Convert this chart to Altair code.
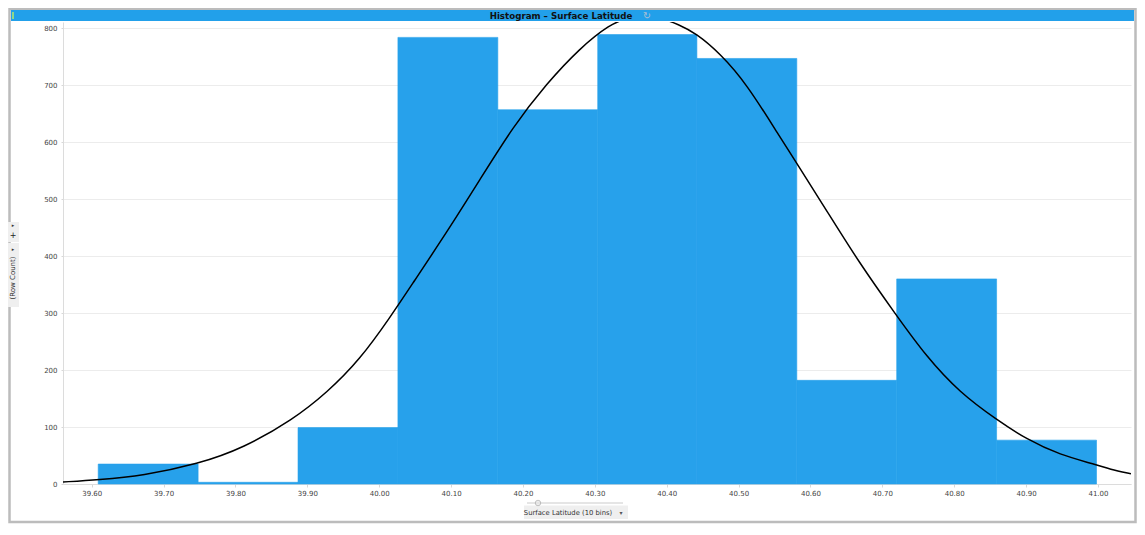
import altair as alt
import pandas as pd

# ---- data ----
bin_start = [39.609, 39.748, 39.887, 40.026, 40.165, 40.304, 40.442, 40.581, 40.720, 40.859]
bin_end = [39.748, 39.887, 40.026, 40.165, 40.304, 40.442, 40.581, 40.720, 40.859, 40.998]
row_count = [35, 3, 99, 784, 657, 789, 747, 182, 360, 77]

curve_x = [39.560, 39.609, 39.671, 39.748, 39.811, 39.880, 39.927, 39.973, 40.016, 40.047,
           40.093, 40.140, 40.186, 40.233, 40.279, 40.321, 40.345, 40.368, 40.392, 40.416,
           40.441, 40.474, 40.511, 40.557, 40.581, 40.622, 40.668, 40.719, 40.761, 40.808,
           40.859, 40.900, 40.947, 40.998, 41.016, 41.046]
curve_y = [3.5, 7.5, 14.6, 35, 63, 113, 160, 218, 294, 353,
           440, 534, 627, 703, 765, 807, 818, 822, 818, 807,
           791, 756, 703, 610, 563, 481, 388, 297, 224, 160,
           113, 79, 51, 34, 26, 18]

x_ticks = [39.6, 39.7, 39.8, 39.9, 40.0, 40.1, 40.2, 40.3, 40.4, 40.5, 40.6, 40.7, 40.8, 40.9, 41.0]
y_ticks = [0, 100, 200, 300, 400, 500, 600, 700, 800]

title_text = "Histogram \u2013 Surface Latitude"
x_title_text = "Surface Latitude (10 bins)"
y_title_text = "(Row Count)"

W, H = 1068, 462
FONT = "DejaVu Sans"
BLUE = "#27a1eb"

bars_df = pd.DataFrame({"start": bin_start, "end": bin_end, "count": row_count})
curve_df = pd.DataFrame({"lat": curve_x, "val": curve_y})
one = pd.DataFrame({"k": [0]})

xscale = alt.Scale(domain=[39.560, 41.046], nice=False, zero=False)
yscale = alt.Scale(domain=[0, 811], nice=False)

xaxis = alt.Axis(values=x_ticks, format=".2f", grid=False, title=None,
                 labelFont=FONT, labelFontSize=7, labelColor="#444",
                 tickSize=3, tickColor="#d8d8d8", domainColor="#dcdcdc",
                 labelPadding=2, labelFlush=False)
yaxis = alt.Axis(values=y_ticks, grid=True, gridColor="#ececec", title=None,
                 labelFont=FONT, labelFontSize=7, labelColor="#444",
                 tickSize=2, tickColor="#d8d8d8", domainColor="#dcdcdc",
                 labelPadding=4)

bars = alt.Chart(bars_df).mark_rect(color=BLUE, stroke=BLUE, strokeWidth=0.6).encode(
    x=alt.X("start:Q", scale=xscale, axis=xaxis),
    x2="end:Q",
    y=alt.Y("count:Q", scale=yscale, axis=yaxis),
    y2=alt.datum(0),
)

curve = alt.Chart(curve_df).mark_line(color="black", strokeWidth=1.5,
                                      interpolate="basis", clip=True).encode(
    x=alt.X("lat:Q", scale=xscale),
    y=alt.Y("val:Q", scale=yscale),
)

# ---- decorative frame / header / controls ----
frame = alt.Chart(one).mark_rect(fill=None, stroke="#bcbcbc", strokeWidth=2.5).encode(
    x=alt.value(-53.5), x2=alt.value(W + 4.5), y=alt.value(-12.8), y2=alt.value(H + 38))
header = alt.Chart(one).mark_rect(color="#22a0ea").encode(
    x=alt.value(-52), x2=alt.value(W + 3), y=alt.value(-12), y2=alt.value(-1))
green = alt.Chart(one).mark_rect(color="#8fd88a").encode(
    x=alt.value(-51), x2=alt.value(-49), y=alt.value(-10), y2=alt.value(-3))
title = alt.Chart(one).mark_text(text=title_text, font=FONT, fontSize=8.7, fontWeight="bold",
                                 color="#111", align="center", baseline="middle").encode(
    x=alt.value(498), y=alt.value(-6.5))
refresh = alt.Chart(one).mark_text(text="\u21bb", font=FONT, fontSize=10, color="#a9bfd4",
                                   align="center", baseline="middle").encode(
    x=alt.value(584), y=alt.value(-6.5))

panel1 = alt.Chart(one).mark_rect(color="#efefef").encode(
    x=alt.value(-55), x2=alt.value(-44), y=alt.value(200), y2=alt.value(220))
panel2 = alt.Chart(one).mark_rect(color="#efefef").encode(
    x=alt.value(-55), x2=alt.value(-44), y=alt.value(221), y2=alt.value(285))
arrow1 = alt.Chart(one).mark_text(text="\u25b8", font=FONT, fontSize=5, color="#333",
                                  align="center", baseline="middle").encode(
    x=alt.value(-50), y=alt.value(202.5))
plus = alt.Chart(one).mark_text(text="+", font=FONT, fontSize=8, color="#222",
                                align="center", baseline="middle").encode(
    x=alt.value(-50), y=alt.value(214))
arrow2 = alt.Chart(one).mark_text(text="\u25b8", font=FONT, fontSize=5, color="#333",
                                  align="center", baseline="middle").encode(
    x=alt.value(-50), y=alt.value(227))
ytitle = alt.Chart(one).mark_text(text=y_title_text, font=FONT, fontSize=7, color="#333",
                                  angle=270, align="center", baseline="middle").encode(
    x=alt.value(-50), y=alt.value(256))

slider = alt.Chart(one).mark_rule(color="#dcdcdc", strokeWidth=1.5).encode(
    x=alt.value(464), x2=alt.value(560), y=alt.value(481))
thumb = alt.Chart(one).mark_point(shape="circle", size=30, filled=True, fill="#e6e6e6",
                                  stroke="#999", strokeWidth=0.8).encode(
    x=alt.value(475), y=alt.value(481))
xbox = alt.Chart(one).mark_rect(color="#efefef").encode(
    x=alt.value(461), x2=alt.value(565), y=alt.value(483.5), y2=alt.value(497))
xtitle = alt.Chart(one).mark_text(text=x_title_text, font=FONT, fontSize=6.8, color="#333",
                                  align="center", baseline="middle").encode(
    x=alt.value(505), y=alt.value(490.5))
xdrop = alt.Chart(one).mark_text(text="\u25be", font=FONT, fontSize=6, color="#555",
                                 align="center", baseline="middle").encode(
    x=alt.value(558), y=alt.value(490.5))

chart = alt.layer(
    frame, header, green, title, refresh,
    panel1, panel2, arrow1, plus, arrow2, ytitle,
    slider, xbox, xtitle, xdrop, thumb,
    bars, curve,
).properties(
    width=W, height=H,
    autosize=alt.AutoSizeParams(type="none"),
    padding={"left": 55, "top": 14, "right": 6, "bottom": 40},
    background="white",
).configure_view(stroke=None)

chart.save("out.html", embed_options={"renderer": "svg", "actions": False})
